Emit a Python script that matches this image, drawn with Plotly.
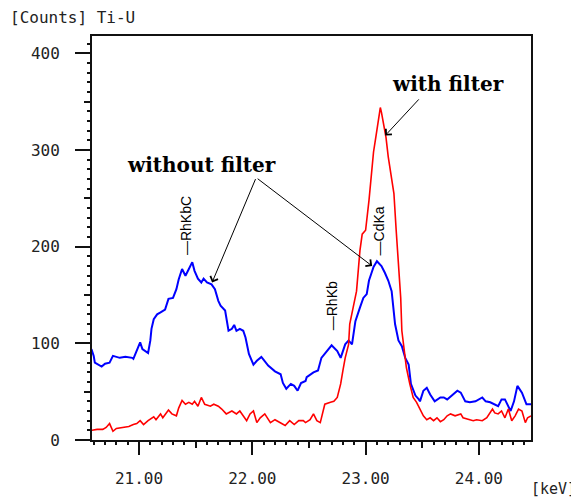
import plotly.graph_objects as go

# ---- data (keV, counts) ----
blue_kev = [20.58, 20.60, 20.61, 20.67, 20.70, 20.74, 20.77, 20.80, 20.83, 20.88, 20.94, 20.95, 20.98,
            21.01, 21.03, 21.05, 21.08, 21.10, 21.11, 21.13, 21.16, 21.19, 21.23, 21.26, 21.30, 21.33,
            21.35, 21.38, 21.41, 21.44, 21.47, 21.49, 21.52, 21.55, 21.57, 21.60, 21.64, 21.67, 21.70,
            21.72, 21.76, 21.79, 21.82, 21.84, 21.86, 21.89, 21.92, 21.94, 21.97, 22.01, 22.04, 22.08,
            22.11, 22.14, 22.20, 22.25, 22.27, 22.30, 22.34, 22.37, 22.40, 22.43, 22.47, 22.48, 22.54,
            22.58, 22.61, 22.66, 22.70, 22.75, 22.78, 22.82, 22.85, 22.88, 22.91, 22.95, 22.98, 23.01,
            23.03, 23.05, 23.07, 23.10, 23.14, 23.17, 23.20, 23.23, 23.26, 23.29, 23.32, 23.35, 23.38,
            23.40, 23.44, 23.47, 23.48, 23.51, 23.54, 23.57, 23.61, 23.66, 23.69, 23.72, 23.76, 23.81,
            23.84, 23.88, 23.92, 23.97, 24.03, 24.06, 24.10, 24.14, 24.17, 24.20, 24.23, 24.28, 24.31,
            24.34, 24.38, 24.42, 24.46]
blue_counts = [94, 87, 80, 76, 79, 80, 87, 86, 85, 86, 85, 84, 92,
               101, 94, 92, 90, 103, 115, 125, 130, 132, 135, 146, 147, 156,
               166, 177, 170, 177, 184, 175, 167, 163, 167, 163, 161, 156, 144,
               139, 134, 113, 115, 119, 113, 115, 113, 106, 89, 78, 82, 86,
               82, 77, 71, 68, 59, 53, 58, 56, 51, 59, 61, 65, 70,
               72, 85, 92, 98, 92, 85, 99, 103, 99, 123, 137, 147, 151,
               165, 172, 179, 185, 180, 173, 165, 154, 120, 103, 97, 85, 78,
               58, 46, 42, 40, 51, 54, 47, 40, 44, 44, 42, 46, 51,
               49, 40, 39, 40, 44, 40, 39, 37, 35, 42, 42, 30, 40,
               56, 49, 37, 37]

red_kev = [20.58, 20.63, 20.68, 20.71, 20.74, 20.77, 20.80, 20.86, 20.91, 20.95, 20.98, 21.01, 21.04,
           21.08, 21.13, 21.15, 21.19, 21.21, 21.26, 21.29, 21.33, 21.35, 21.38, 21.41, 21.44, 21.47,
           21.49, 21.52, 21.55, 21.58, 21.63, 21.66, 21.70, 21.73, 21.77, 21.82, 21.86, 21.89, 21.92,
           21.95, 21.98, 22.01, 22.04, 22.07, 22.11, 22.16, 22.20, 22.25, 22.29, 22.33, 22.37, 22.41,
           22.45, 22.47, 22.51, 22.54, 22.57, 22.60, 22.64, 22.69, 22.72, 22.75, 22.78, 22.80, 22.82,
           22.85, 22.86, 22.89, 22.92, 22.94, 22.95, 22.97, 23.00, 23.03, 23.05, 23.07, 23.09, 23.11,
           23.13, 23.14, 23.16, 23.18, 23.20, 23.22, 23.25, 23.27, 23.29, 23.31, 23.32, 23.34, 23.36,
           23.39, 23.42, 23.45, 23.48, 23.51, 23.54, 23.57, 23.60, 23.63, 23.66, 23.69, 23.72, 23.75,
           23.79, 23.84, 23.86, 23.91, 23.95, 23.98, 24.03, 24.07, 24.12, 24.14, 24.17, 24.20, 24.23,
           24.26, 24.29, 24.32, 24.35, 24.38, 24.41, 24.43, 24.46]
red_counts = [10, 11, 11, 13, 17, 9, 12, 13, 14, 16, 17, 20, 16,
              20, 24, 21, 27, 23, 31, 27, 25, 33, 41, 37, 39, 37,
              40, 35, 44, 37, 35, 37, 35, 32, 27, 30, 27, 30, 25,
              20, 27, 30, 18, 23, 27, 18, 21, 18, 15, 20, 16, 20,
              20, 18, 21, 27, 20, 18, 37, 39, 40, 44, 58, 72, 85,
              99, 120, 137, 154, 182, 196, 213, 217, 248, 274, 298, 313, 327,
              344, 339, 327, 313, 293, 279, 255, 217, 182, 147, 113, 92, 75,
              58, 44, 39, 32, 25, 21, 23, 20, 23, 19, 21, 25, 27,
              25, 27, 23, 21, 20, 21, 20, 23, 32, 28, 27, 30, 23,
              32, 20, 25, 32, 30, 18, 23, 25]

x_tick_vals = [21, 22, 23, 24]
x_tick_text = ["21.00", "22.00", "23.00", "24.00"]
y_tick_vals = [0, 100, 200, 300, 400]
y_tick_text = ["0", "100", "200", "300", "400"]

line_labels = ["—RhKbC", "—RhKb", "—CdKa"]
line_label_kev = [21.42, 22.70, 23.12]
line_label_counts = [222, 139, 216]

X_RANGE = [20.585, 24.46]
Y_RANGE = [0, 418]

MONO = "DejaVu Sans Mono"
SERIF = "DejaVu Serif"

fig = go.Figure()
fig.add_trace(go.Scatter(x=blue_kev, y=blue_counts, mode="lines",
                         line=dict(color="#0000ff", width=2), showlegend=False))
fig.add_trace(go.Scatter(x=red_kev, y=red_counts, mode="lines",
                         line=dict(color="#ff0000", width=1.6), showlegend=False))

axis_common = dict(showgrid=False, zeroline=False, showline=True, linecolor="#111",
                   linewidth=2, mirror=True, ticks="outside", tickcolor="#111",
                   tickfont=dict(family=MONO, size=16, color="#222"))

# page body has an 8px default margin, so the figure is sized to fit the window
fig.update_layout(
    width=571, height=493,
    margin=dict(l=84, r=48, t=28, b=61),
    paper_bgcolor="white", plot_bgcolor="white",
    xaxis=dict(range=X_RANGE, tickvals=x_tick_vals, ticktext=x_tick_text,
               ticklen=13, tickwidth=2, ticklabelstandoff=10,
               minor=dict(dtick=0.1, tick0=21, ticks="outside", ticklen=3, tickwidth=1.5,
                          tickcolor="#111", showgrid=False),
               **axis_common),
    yaxis=dict(range=Y_RANGE, tickvals=y_tick_vals, ticktext=y_tick_text,
               ticklen=15, tickwidth=1.5, ticklabelstandoff=12,
               minor=dict(dtick=10, tick0=0, ticks="outside", ticklen=3, tickwidth=1.5,
                          tickcolor="#111", showgrid=False),
               **axis_common),
    xaxis2=dict(range=X_RANGE, overlaying="x", anchor="y", side="bottom",
                showgrid=False, zeroline=False, showline=False, showticklabels=False,
                ticks="outside", dtick=0.5, tick0=20.5, ticklen=7, tickwidth=1.5, tickcolor="#111"),
    yaxis2=dict(range=Y_RANGE, overlaying="y", anchor="x", side="left",
                showgrid=False, zeroline=False, showline=False, showticklabels=False,
                ticks="outside", dtick=50, tick0=0, ticklen=7, tickwidth=1.5, tickcolor="#111"),
)
# invisible trace to register overlay axes
fig.add_trace(go.Scatter(x=[X_RANGE[0]], y=[Y_RANGE[0]], xaxis="x2", yaxis="y2",
                         mode="markers", marker=dict(opacity=0), showlegend=False, hoverinfo="skip"))

anns = []
anns.append(dict(text="[Counts] Ti-U", xref="paper", yref="paper", x=-0.191, y=1.045,
                 xanchor="left", yanchor="middle", showarrow=False,
                 font=dict(family=MONO, size=16, color="#222")))
anns.append(dict(text="[keV]", xref="paper", yref="paper", x=0.995, y=-0.121,
                 xanchor="left", yanchor="middle", showarrow=False,
                 font=dict(family=MONO, size=15, color="#222")))
anns.append(dict(text="<b>without filter</b>", x=21.548, y=285, xref="x", yref="y",
                 showarrow=False, font=dict(family=SERIF, size=20, color="black")))
anns.append(dict(text="<b>with filter</b>", x=23.73, y=368, xref="x", yref="y",
                 showarrow=False, font=dict(family=SERIF, size=20, color="black")))
# arrows
arrow_style = dict(showarrow=True, arrowhead=4, arrowsize=1.6, arrowwidth=1, arrowcolor="black",
                   axref="x", ayref="y", xref="x", yref="y", text="")
anns.append(dict(x=21.645, y=163, ax=22.034, ay=271.5, **arrow_style))
anns.append(dict(x=23.058, y=180, ax=22.034, ay=271.5, **arrow_style))
anns.append(dict(x=23.173, y=315, ax=23.482, ay=354, **arrow_style))
for t, xk, yc in zip(line_labels, line_label_kev, line_label_counts):
    anns.append(dict(text=t, x=xk, y=yc, xref="x", yref="y", showarrow=False, textangle=-90,
                     font=dict(family="Liberation Sans", size=14, color="black")))
fig.update_layout(annotations=anns)

fig.write_html("out.html")
